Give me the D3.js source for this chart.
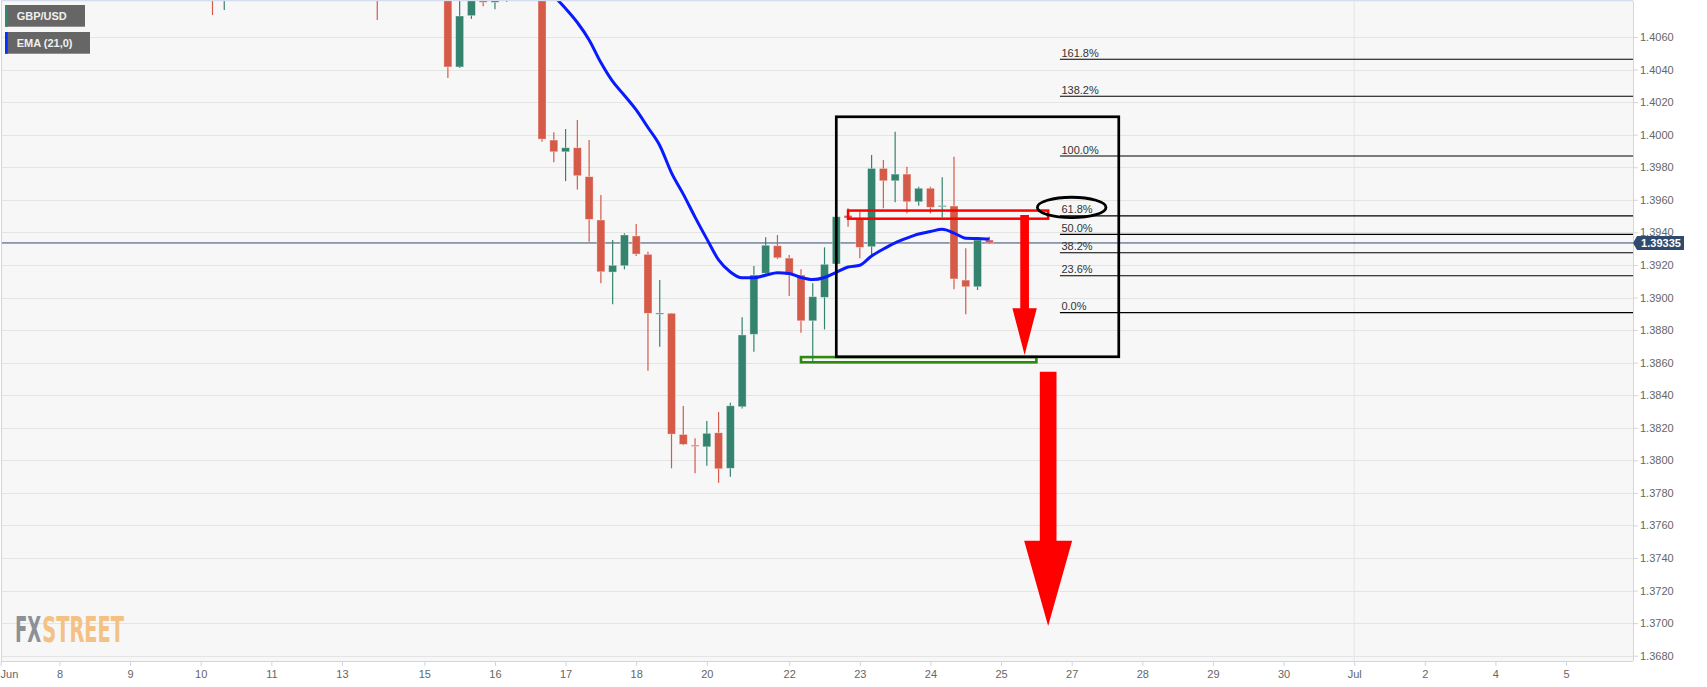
<!DOCTYPE html>
<html><head><meta charset="utf-8">
<script src="https://cdn.jsdelivr.net/npm/d3@7"></script>
<style>
body{margin:0;background:#fff;}
svg{display:block;font-family:"Liberation Sans",Arial,sans-serif;}
</style>
</head><body>
<svg id="chart" width="1707" height="687"></svg>
<script>
// ---------- DATA (4-hour GBP/USD candles; bar = candle slot on the time axis) ----------
const candleBars = [18,19,32,38,39,40,41,42,43,46,47,48,49,50,51,52,53,54,55,56,57,58,59,60,61,62,63,64,65,66,67,68,69,70,71,72,73,74,75,76,77,78,79,80,81,82,83,84];
const opens  = [1.4105,1.4092,1.4110,1.4112,1.40416,1.40731,1.4086,1.40813,1.40822,1.4100,1.39967,1.39895,1.39920,1.39742,1.39476,1.39156,1.39195,1.39378,1.39265,1.38900,1.38903,1.38159,1.38093,1.38083,1.38169,1.37951,1.38329,1.38774,1.39149,1.39318,1.39242,1.39138,1.38857,1.39001,1.39206,1.39504,1.39486,1.39312,1.39793,1.39717,1.39758,1.39588,1.39671,1.39560,1.39562,1.39107,1.39066,1.39353];
const highs  = [1.4112,1.4108,1.4118,1.4120,1.4086,1.4094,1.4092,1.4088,1.4090,1.4108,1.40015,1.40035,1.40090,1.39967,1.39629,1.39353,1.39394,1.39451,1.39281,1.39107,1.38905,1.38333,1.38135,1.38241,1.38297,1.38354,1.38878,1.39193,1.39370,1.39384,1.39261,1.39173,1.39087,1.39308,1.39525,1.39548,1.39527,1.39875,1.39844,1.40018,1.39803,1.39680,1.39680,1.39738,1.39865,1.39302,1.39353,1.39373];
const lows   = [1.40735,1.40766,1.40704,1.40348,1.40410,1.40711,1.40789,1.40770,1.40815,1.39957,1.39830,1.39715,1.39664,1.39343,1.39087,1.38958,1.39173,1.39255,1.38550,1.38698,1.37951,1.38092,1.37920,1.37967,1.37862,1.37899,1.38319,1.38667,1.39138,1.39236,1.39009,1.38784,1.38606,1.38804,1.39200,1.39435,1.39241,1.39257,1.39548,1.39585,1.39517,1.39564,1.39517,1.39492,1.39050,1.38897,1.39046,1.39329];
const closes = [1.4090,1.4102,1.4095,1.40416,1.40729,1.4088,1.40813,1.40830,1.4086,1.39973,1.39895,1.39920,1.39748,1.39480,1.39158,1.39198,1.39384,1.39267,1.38903,1.38905,1.38161,1.38098,1.38088,1.38166,1.37948,1.38335,1.38770,1.39138,1.39321,1.39244,1.39138,1.38857,1.39005,1.39204,1.39496,1.39488,1.39308,1.39793,1.39717,1.39758,1.39588,1.39671,1.39554,1.39565,1.39114,1.39066,1.39353,1.39335];

const emaBars   = [46,47,48,49,50,51,52,53,54,55,56,57,58,59,60,61,62,63,64,65,66,67,68,69,70,71,72,73,74,75,76,77,78,79,80,81,82,83,84];
const emaValues = [1.40930,1.40853,1.40775,1.40689,1.40582,1.40443,1.40327,1.40241,1.40152,1.40044,1.39934,1.39766,1.39635,1.39494,1.39360,1.39231,1.39157,1.39121,1.39121,1.39137,1.39152,1.39147,1.39123,1.39110,1.39123,1.39155,1.39187,1.39198,1.39255,1.39298,1.39336,1.39365,1.39390,1.39405,1.39419,1.39396,1.39364,1.39362,1.39359];

const yTickValues = [1.3680,1.3700,1.3720,1.3740,1.3760,1.3780,1.3800,1.3820,1.3840,1.3860,1.3880,1.3900,1.3920,1.3940,1.3960,1.3980,1.4000,1.4020,1.4040,1.4060];
const xTickBars   = [0,5,11,17,23,29,36,42,48,54,60,67,73,79,85,91,97,103,109,115,121,127,133];
const xTickLabels = ["Jun","8","9","10","11","13","15","16","17","18","20","22","23","24","25","27","28","29","30","Jul","2","4","5"];

const lastPrice = 1.39335;
const fibHigh = 1.39869, fibLow = 1.38907, fibStartBar = 90;
const fibRatios = [1.618,1.382,1.0,0.618,0.5,0.382,0.236,0.0];
const fibLabels = ["161.8%","138.2%","100.0%","61.8%","50.0%","38.2%","23.6%","0.0%"];

// annotations (data coordinates: bar, price)
const boxBlack   = {b0:71, b1:95, p0:1.40110, p1:1.38636};
const boxRed     = {b0:72, b1:89, p0:1.39534, p1:1.39484};
const boxGreen   = {b0:68, b1:88, p0:1.38634, p1:1.38602};
const arrowSmall = {bar:87, from:1.39507, to:1.38647};
const arrowBig   = {bar:89, from:1.38544, to:1.36982};
const ellipseAt  = {bar:91, price:1.39553};
const legendItems = ["GBP/USD","EMA (21,0)"];

// ---------- DRAW ----------
const svg = d3.select("#chart");
const P = {left:1, top:1, right:1633, bottom:661};
const step = 11.77;
const x = d3.scaleLinear().domain([0,138.7]).range([0.62, 0.62+138.7*step]);
const y = d3.scaleLinear().domain([1.3680,1.4060]).range([655.7,37]);

svg.append("rect").attr("width",1707).attr("height",687).attr("fill","#fff");
svg.append("rect").attr("x",P.left).attr("y",P.top).attr("width",P.right-P.left).attr("height",P.bottom-P.top).attr("fill","#f7f7f7");

svg.append("defs").append("clipPath").attr("id","clip")
  .append("rect").attr("x",P.left).attr("y",P.top).attr("width",P.right-P.left).attr("height",P.bottom-P.top);

const g = svg.append("g").attr("clip-path","url(#clip)");

// grid
g.selectAll(".hg").data(yTickValues).join("line")
  .attr("x1",P.left).attr("x2",P.right).attr("y1",d=>Math.round(y(d))+0.5).attr("y2",d=>Math.round(y(d))+0.5)
  .attr("stroke","#e4e4e4").attr("stroke-width",1);
g.append("line").attr("x1",x(115)).attr("x2",x(115)).attr("y1",P.top).attr("y2",P.bottom)
  .attr("stroke","#e4e4e4").attr("stroke-width",1);

// current price line
g.append("line").attr("x1",P.left).attr("x2",P.right).attr("y1",y(lastPrice)).attr("y2",y(lastPrice))
  .attr("stroke","#2f4a6d").attr("stroke-width",1);

// candles
const candles = candleBars.map((b,i)=>({b, o:opens[i], h:highs[i], l:lows[i], c:closes[i]}));
const red = "#d55a48", green = "#34836f";
const cg = g.append("g");
cg.selectAll(".wick").data(candles).join("line")
  .attr("x1",d=>x(d.b)).attr("x2",d=>x(d.b)).attr("y1",d=>y(d.h)).attr("y2",d=>y(d.l))
  .attr("stroke",d=>d.c>=d.o?green:red).attr("stroke-width",1.2);
cg.selectAll(".body").data(candles).join("rect")
  .attr("x",d=>x(d.b)-4).attr("width",8)
  .attr("y",d=>y(Math.max(d.o,d.c)))
  .attr("height",d=>Math.max(1.2, y(Math.min(d.o,d.c))-y(Math.max(d.o,d.c))))
  .attr("fill",d=>d.c>=d.o?green:red)
  .attr("stroke","rgba(255,255,255,0.45)").attr("stroke-width",0.8);

// EMA
const ema = emaBars.map((b,i)=>[b,emaValues[i]]);
g.append("path").datum(ema)
  .attr("d", d3.line().x(d=>x(d[0])).y(d=>y(d[1])).curve(d3.curveMonotoneX))
  .attr("fill","none").attr("stroke","#0a1aff").attr("stroke-width",3).attr("stroke-linejoin","round");

// fibonacci
const fib = fibRatios.map((r,i)=>({v:fibLow + r*(fibHigh-fibLow), label:fibLabels[i]}));
g.selectAll(".fib").data(fib).join("line")
  .attr("x1",x(fibStartBar)).attr("x2",P.right).attr("y1",d=>y(d.v)).attr("y2",d=>y(d.v))
  .attr("stroke","#000").attr("stroke-width",1.1);
g.selectAll(".fibt").data(fib).join("text")
  .attr("x",x(fibStartBar)+1.5).attr("y",d=>y(d.v)-2.5)
  .attr("font-size",11).attr("fill","#333").text(d=>d.label);

// annotations
const rectOf = (r)=>({x:x(r.b0), y:y(r.p0), w:x(r.b1)-x(r.b0), h:y(r.p1)-y(r.p0)});
const gr = rectOf(boxGreen);
g.append("rect").attr("x",gr.x).attr("y",gr.y).attr("width",gr.w).attr("height",gr.h)
  .attr("fill","none").attr("stroke","#2e8a0e").attr("stroke-width",2.6);
const bk = rectOf(boxBlack);
g.append("rect").attr("x",bk.x).attr("y",bk.y).attr("width",bk.w).attr("height",bk.h)
  .attr("fill","none").attr("stroke","#000").attr("stroke-width",2.7);
const rr = rectOf(boxRed);
g.append("rect").attr("x",rr.x).attr("y",rr.y).attr("width",rr.w).attr("height",rr.h)
  .attr("fill","none").attr("stroke","#ff0000").attr("stroke-width",2.5);
g.append("ellipse").attr("cx",x(ellipseAt.bar)).attr("cy",y(ellipseAt.price)).attr("rx",34.3).attr("ry",10.2)
  .attr("fill","none").attr("stroke","#000").attr("stroke-width",2.8);

function arrow(a, shaftW, headW, headL){
  const cx = x(a.bar), y0 = y(a.from), y1 = y(a.to), yb = y1 - headL;
  return `M${cx-shaftW/2},${y0}L${cx+shaftW/2},${y0}L${cx+shaftW/2},${yb}L${cx+headW/2},${yb}L${cx},${y1}L${cx-headW/2},${yb}L${cx-shaftW/2},${yb}Z`;
}
g.append("path").attr("d",arrow(arrowSmall,8.7,24.4,46.7)).attr("fill","#ff0000");
g.append("path").attr("d",arrow(arrowBig,16.7,48,85.3)).attr("fill","#ff0000");

// frame
svg.append("line").attr("x1",P.left+0.5).attr("x2",P.left+0.5).attr("y1",P.top).attr("y2",P.bottom).attr("stroke","#ccd6eb");
svg.append("line").attr("x1",P.left).attr("x2",P.right).attr("y1",P.top-0.3).attr("y2",P.top-0.3).attr("stroke","#ccd6eb");

// axes
const ya = svg.append("g").attr("transform",`translate(${P.right},0)`)
  .call(d3.axisRight(y).tickValues(yTickValues).tickFormat(d3.format(".4f")).tickSize(5).tickSizeOuter(0).tickPadding(2));
ya.select(".domain").remove();
ya.selectAll(".tick line").attr("stroke","#ccd6eb");
ya.selectAll(".tick text").attr("font-size",11).attr("fill","#666").attr("font-family","\"Liberation Sans\",Arial,sans-serif");
svg.append("line").attr("x1",P.right+0.5).attr("x2",P.right+0.5).attr("y1",P.top).attr("y2",P.bottom).attr("stroke","#ccd6eb");

const xa = svg.append("g").attr("transform",`translate(0,${P.bottom})`)
  .call(d3.axisBottom(x).tickValues(xTickBars).tickFormat((d,i)=>xTickLabels[i]).tickSize(5).tickSizeOuter(0).tickPadding(4));
xa.select(".domain").remove();
xa.selectAll(".tick line").attr("stroke","#ccd6eb");
xa.selectAll(".tick text").attr("font-size",11).attr("fill","#666").attr("font-family","\"Liberation Sans\",Arial,sans-serif");
xa.selectAll(".tick text").filter((d,i)=>i===0).attr("text-anchor","start").attr("x",-0.6);
svg.append("line").attr("x1",P.left).attr("x2",P.right).attr("y1",P.bottom+0.5).attr("y2",P.bottom+0.5).attr("stroke","#ccd6eb");

// price tag
const py = y(lastPrice);
svg.append("path").attr("d",`M${P.right},${py}L${P.right+4},${py-7}L${P.right+51},${py-7}L${P.right+51},${py+7}L${P.right+4},${py+7}Z`)
  .attr("fill","#2f4a6d");
svg.append("text").attr("x",P.right+28).attr("y",py+4).attr("text-anchor","middle")
  .attr("font-size",11).attr("font-weight","bold").attr("fill","#fff").text(lastPrice.toFixed(5));

// legend
const legendColors = ["#338571","#0033ff"];
const legendW = [80,85];
legendItems.forEach((t,i)=>{
  const ly = 5 + i*27;
  svg.append("rect").attr("x",5).attr("y",ly).attr("width",legendW[i]).attr("height",21.7).attr("fill","#666");
  svg.append("rect").attr("x",5).attr("y",ly).attr("width",2.7).attr("height",21.7).attr("fill",legendColors[i]);
  svg.append("text").attr("x",16.7).attr("y",ly+15).attr("font-size",11).attr("font-weight","bold").attr("fill","#f0f0f0").text(t);
});

// watermark logo: two condensed words, horizontally scaled to the logo's width
const logoParts = [{t:"FX", c:"#8e9098", x0:15, w:26.3}, {t:"STREET", c:"#f3c184", x0:42.3, w:81.7}];
logoParts.forEach(p=>{
  const t = svg.append("text")
    .attr("font-family","\"DejaVu Sans Condensed\",\"DejaVu Sans\",sans-serif")
    .attr("font-weight","bold").attr("font-size",36).attr("fill",p.c).text(p.t);
  const L = t.node().getComputedTextLength() || 1;
  t.attr("transform",`translate(${p.x0},641.5) scale(${p.w/L},1)`);
});
</script>
</body></html>
